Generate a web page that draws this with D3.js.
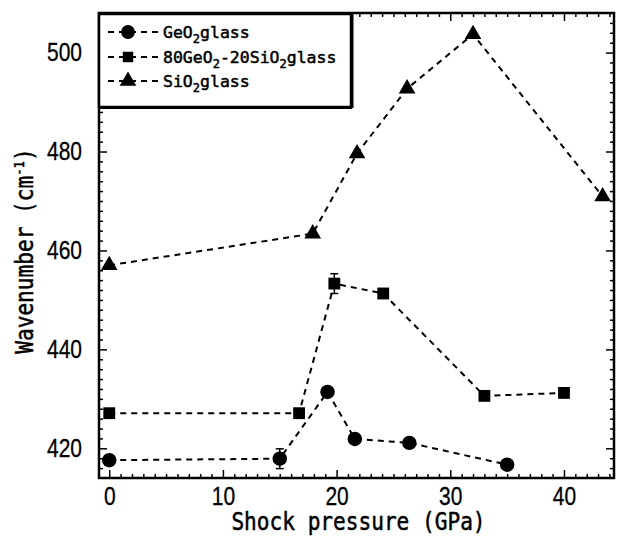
<!DOCTYPE html>
<html>
<head>
<meta charset="utf-8">
<script src="https://cdn.jsdelivr.net/npm/d3@7"></script>
<style>
  html, body { margin: 0; padding: 0; background: #fff; }
  svg { display: block; }
</style>
</head>
<body>
<svg id="chart" width="618" height="537"></svg>
<script>
// ---- data ----
const geoX = [0, 15, 19.2, 21.6, 26.4, 35];
const geoY = [417.6, 417.9, 431.4, 421.9, 421.1, 416.7];
const geoErr = [0, 2, 0, 0, 0, 0];

const mixX = [0, 16.7, 19.8, 24.1, 33, 40];
const mixY = [427.1, 427.1, 453.3, 451.3, 430.6, 431.2];
const mixErr = [0, 0, 2, 0, 0, 0];

const sioX = [0, 17.9, 21.8, 26.2, 32, 43.4];
const sioY = [457, 463.4, 479.6, 492.7, 503.7, 470.9];

const xTickValues = [0, 10, 20, 30, 40];
const yTickValues = [420, 440, 460, 480, 500];
const xDomain = [-0.9, 44.4];
const yDomain = [414, 508];

const seriesNames = ["GeO2glass", "80GeO2-20SiO2glass", "SiO2glass"];

// ---- layout ----
const svg = d3.select("#chart");
const L = 99, R = 614, T = 13, B = 478;
const x = d3.scaleLinear().domain(xDomain).range([L, R]);
const y = d3.scaleLinear().domain(yDomain).range([B, T]);

const tickFont = "'Liberation Sans', Arial, sans-serif";
const monoFont = "'DejaVu Sans Mono', monospace";
const SX = 0.84; // horizontal condensation of tick digits

const xMinor = d3.range(0, 45, 1).filter(v => v % 10 !== 0);
const yMinor = d3.range(416, 508, 2).filter(v => v % 20 !== 0);

function styleAxis(g) {
  g.select(".domain").remove();
  g.selectAll("line").attr("stroke", "#000").attr("stroke-width", 1.5);
}

// bottom
svg.append("g").attr("transform", `translate(0,${B})`)
  .call(d3.axisBottom(x).tickValues(xMinor).tickSize(-4).tickFormat(""))
  .call(styleAxis);
svg.append("g").attr("transform", `translate(0,${B})`)
  .call(d3.axisBottom(x).tickValues(xTickValues).tickSize(-8).tickPadding(9).tickFormat(d3.format("d")))
  .call(styleAxis)
  .call(g => g.selectAll("text").attr("font-family", tickFont).attr("font-size", 25)
    .attr("fill", "#000").attr("stroke", "#000").attr("stroke-width", 0.3)
    .attr("transform", `scale(${SX},1)`));
// top
svg.append("g").attr("transform", `translate(0,${T})`)
  .call(d3.axisTop(x).tickValues(xMinor).tickSize(-4).tickFormat(""))
  .call(styleAxis);
svg.append("g").attr("transform", `translate(0,${T})`)
  .call(d3.axisTop(x).tickValues(xTickValues).tickSize(-8).tickFormat(""))
  .call(styleAxis);
// left
svg.append("g").attr("transform", `translate(${L},0)`)
  .call(d3.axisLeft(y).tickValues(yMinor).tickSize(-4).tickFormat(""))
  .call(styleAxis);
svg.append("g").attr("transform", `translate(${L},0)`)
  .call(d3.axisLeft(y).tickValues(yTickValues).tickSize(-8).tickPadding(17).tickFormat(d3.format("d")))
  .call(styleAxis)
  .call(g => g.selectAll("text").attr("font-family", tickFont).attr("font-size", 25)
    .attr("fill", "#000").attr("stroke", "#000").attr("stroke-width", 0.3)
    .attr("x", -17 / SX).attr("transform", `scale(${SX},1)`));
// right
svg.append("g").attr("transform", `translate(${R},0)`)
  .call(d3.axisRight(y).tickValues(yMinor).tickSize(-4).tickFormat(""))
  .call(styleAxis);
svg.append("g").attr("transform", `translate(${R},0)`)
  .call(d3.axisRight(y).tickValues(yTickValues).tickSize(-8).tickFormat(""))
  .call(styleAxis);

// frame
svg.append("rect").attr("x", L).attr("y", T).attr("width", R - L).attr("height", B - T)
  .attr("fill", "none").attr("stroke", "#000").attr("stroke-width", 2.5);

// ---- series ----
const line = d3.line().x(d => x(d[0])).y(d => y(d[1]));
const dash = "6,5";

function drawSeries(xs, ys, errs, symbolType, size) {
  const pts = xs.map((v, i) => [v, ys[i], errs ? errs[i] : 0]);
  svg.append("path").datum(pts).attr("d", line)
    .attr("fill", "none").attr("stroke", "#000").attr("stroke-width", 2)
    .attr("stroke-dasharray", dash);
  const eb = svg.append("g");
  pts.filter(p => p[2] > 0).forEach(p => {
    eb.append("line").attr("x1", x(p[0])).attr("x2", x(p[0]))
      .attr("y1", y(p[1] - p[2])).attr("y2", y(p[1] + p[2]))
      .attr("stroke", "#000").attr("stroke-width", 1.5);
    [p[1] - p[2], p[1] + p[2]].forEach(v => {
      eb.append("line").attr("x1", x(p[0]) - 4).attr("x2", x(p[0]) + 4)
        .attr("y1", y(v)).attr("y2", y(v)).attr("stroke", "#000").attr("stroke-width", 1.5);
    });
  });
  svg.append("g").selectAll("path").data(pts).join("path")
    .attr("d", d3.symbol().type(symbolType).size(size))
    .attr("transform", d => `translate(${x(d[0])},${y(d[1])})`)
    .attr("fill", "#000");
}

drawSeries(geoX, geoY, geoErr, d3.symbolCircle, 165);
drawSeries(mixX, mixY, mixErr, d3.symbolSquare, 140);
drawSeries(sioX, sioY, null, d3.symbolTriangle, 120);

// ---- legend ----
const lg = svg.append("g");
lg.append("rect").attr("x", 99).attr("y", 14).attr("width", 252).attr("height", 93)
  .attr("fill", "#fff").attr("stroke", "#000").attr("stroke-width", 2.5);
lg.append("line").attr("x1", 352).attr("x2", 352).attr("y1", 14).attr("y2", 108)
  .attr("stroke", "#000").attr("stroke-width", 3);
lg.append("line").attr("x1", 99).attr("x2", 352).attr("y1", 107.5).attr("y2", 107.5)
  .attr("stroke", "#000").attr("stroke-width", 3);

const legendSymbols = [d3.symbolCircle, d3.symbolSquare, d3.symbolTriangle];
const legendSizes = [150, 110, 120];
const rowY = [32, 57, 81];
seriesNames.forEach((name, i) => {
  const ry = rowY[i];
  lg.append("line").attr("x1", 108).attr("x2", 160).attr("y1", ry).attr("y2", ry)
    .attr("stroke", "#000").attr("stroke-width", 2).attr("stroke-dasharray", "6,5");
  lg.append("path").attr("d", d3.symbol().type(legendSymbols[i]).size(legendSizes[i]))
    .attr("transform", `translate(128,${ry})`).attr("fill", "#000");
  const t = lg.append("text").attr("x", 163).attr("y", ry + 6)
    .attr("font-family", monoFont).attr("font-size", 16.5).attr("fill", "#000")
    .attr("stroke", "#000").attr("stroke-width", 0.5);
  const parts = name.split(/(?<=O)(2)/);
  let sub = false;
  parts.forEach(p => {
    if (p === "") return;
    if (p === "2") {
      t.append("tspan").attr("font-size", 12).attr("dy", 5).text("2");
      sub = true;
    } else {
      const ts = t.append("tspan").text(p);
      if (sub) { ts.attr("dy", -5); sub = false; }
    }
  });
});

// ---- axis titles ----
svg.append("text")
  .attr("transform", `translate(${(L + R) / 2 + 2},530) scale(0.88,1)`)
  .attr("text-anchor", "middle")
  .attr("font-family", monoFont).attr("font-size", 24).attr("fill", "#000")
  .attr("stroke", "#000").attr("stroke-width", 0.5)
  .text("Shock pressure (GPa)");

const yl = svg.append("text")
  .attr("transform", `translate(33,251) rotate(-90) scale(0.88,1)`)
  .attr("text-anchor", "middle")
  .attr("font-family", monoFont).attr("font-size", 24).attr("fill", "#000")
  .attr("stroke", "#000").attr("stroke-width", 0.5);
yl.append("tspan").text("Wavenumber (cm");
yl.append("tspan").attr("font-size", 14).attr("dy", -9).text("-1");
yl.append("tspan").attr("dy", 9).text(")");
</script>
</body>
</html>
